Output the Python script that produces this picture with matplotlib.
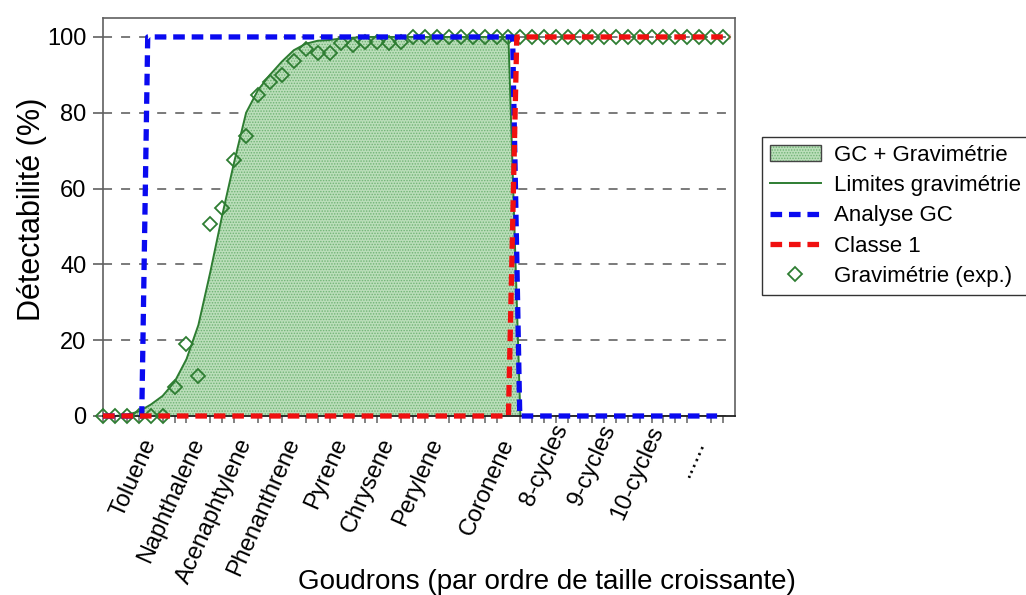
import matplotlib
matplotlib.use("Agg")
import matplotlib.pyplot as plt
import matplotlib.transforms as mtransforms
from matplotlib.patches import Patch
from matplotlib.legend_handler import HandlerTuple

plt.rcParams["font.family"] = ["Liberation Sans", "DejaVu Sans"]
plt.rcParams["hatch.linewidth"] = 0.7

# courbe limite gravimétrie (aire remplie)
curve_x = [0, 1, 2, 3, 4, 5, 6, 7, 8, 9, 10, 11, 12, 13, 14, 15, 16, 17, 18, 19, 20, 22, 34, 35]
curve_y = [0, 0, 0.3, 1.2, 3, 5.3, 9, 15, 24, 38, 53, 67, 80, 86, 90, 93.5, 96.5, 98.2, 99, 99.2, 99.6, 100, 100, 0]

# points expérimentaux
exp_x = list(range(53))
exp_y = [0, 0, 0, 0, 0, 0,
         7.7, 19, 10.6, 50.6, 55, 67.5, 74, 84.7, 88, 90,
         93.6, 96.8, 95.8, 95.8, 98.4, 98, 98.7, 98.7, 98.4, 98.7] + [100] * 27

# analyse GC
gc_x = [0, 3.25, 3.75, 34.35, 34.95, 51.5]
gc_y = [0, 0, 100, 100, 0, 0]

# classe 1
c1_x = [0, 34.0, 34.7, 52.6]
c1_y = [0, 0, 100, 100]

tick_pos = [4, 8, 12, 16, 20, 24, 28, 34, 38.5, 42.5, 46.5, 50]
tick_labels = ["Toluene", "Naphthalene", "Acenaphtylene", "Phenanthrene", "Pyrene",
               "Chrysene", "Perylene", "Coronene", "8-cycles", "9-cycles", "10-cycles", "......"]
label_dy = [0, 0, 0, 0, 0, 0, 0, 0, 10, 10, 9, 0]  # points

FILL_FACE = "#bbdeba"
FILL_DOTS = "#6fb374"

fig = plt.figure(figsize=(10.26, 5.95), dpi=100)
ax = fig.add_axes([103 / 1026, 1 - 416 / 595, 632 / 1026, 398 / 595])

ax.set_axisbelow(True)
ax.yaxis.grid(True, color="#707070", linestyle=(0, (5, 5)), linewidth=1.3)

ax.fill_between(curve_x, curve_y, facecolor=FILL_FACE, edgecolor=FILL_DOTS,
                hatch="......", linewidth=0, zorder=1)
line_lim, = ax.plot(curve_x, curve_y, color="#2e7d32", linewidth=1.4, zorder=2)
line_exp, = ax.plot(exp_x, exp_y, linestyle="none", marker="D", markersize=7,
                    markerfacecolor="none", markeredgecolor="#2e7d32", markeredgewidth=1.3,
                    zorder=3, clip_on=False)
line_gc, = ax.plot(gc_x, gc_y, color="#0a0af0", linewidth=3.8, linestyle=(0, (2.2, 1.3)),
                   zorder=4, clip_on=False)
line_c1, = ax.plot(c1_x, c1_y, color="#f01010", linewidth=3.8, linestyle=(0, (2.2, 1.3)),
                   zorder=5, clip_on=False)

ax.set_xlim(0, 53)
ax.set_ylim(0, 105)
ax.set_yticks([0, 20, 40, 60, 80, 100])
ax.tick_params(axis="y", labelsize=17, length=7, width=1.2, color="#606060", pad=5)

ax.set_xticks(tick_pos)
ax.set_xticklabels(tick_labels, rotation=66, ha="right", va="center",
                   rotation_mode="anchor", fontsize=17)
ax.tick_params(axis="x", which="major", length=0, pad=17)
ax.set_xticks(range(53), minor=True)
ax.tick_params(axis="x", which="minor", length=5, width=1.1, color="#606060")
for lbl, dy in zip(ax.get_xticklabels(), label_dy):
    lbl.set_transform(lbl.get_transform()
                      + mtransforms.ScaledTranslation(0, dy / 72, fig.dpi_scale_trans))

for side in ["top", "right", "left"]:
    ax.spines[side].set_color("#606060")
    ax.spines[side].set_linewidth(1.2)
ax.spines["bottom"].set_color("#202020")
ax.spines["bottom"].set_linewidth(1.3)

ax.set_ylabel("Détectabilité (%)", fontsize=22)
ax.yaxis.set_label_coords(-0.088, 0.52)
ax.set_xlabel("Goudrons (par ordre de taille croissante)", fontsize=20)
ax.xaxis.set_label_coords(0.703, -0.385)

fill_handle = (Patch(facecolor=FILL_FACE, edgecolor=FILL_DOTS, hatch="......", linewidth=0),
               Patch(facecolor="none", edgecolor="#444444", linewidth=1.0))
leg = fig.legend([fill_handle, line_lim, line_gc, line_c1, line_exp],
                 ["GC + Gravimétrie", "Limites gravimétrie", "Analyse GC", "Classe 1",
                  "Gravimétrie (exp.)"],
                 handler_map={tuple: HandlerTuple(ndivide=1, pad=0)},
                 loc="upper left",
                 bbox_to_anchor=(762 / 1026, 1 - 137 / 595), bbox_transform=fig.transFigure,
                 fontsize=16, frameon=True, fancybox=False, borderaxespad=0,
                 handlelength=2.3, handletextpad=0.6, labelspacing=0.42,
                 borderpad=0.35, numpoints=1)
leg.get_frame().set_edgecolor("black")
leg.get_frame().set_linewidth(1.0)

fig.savefig("out.png", dpi=100)
